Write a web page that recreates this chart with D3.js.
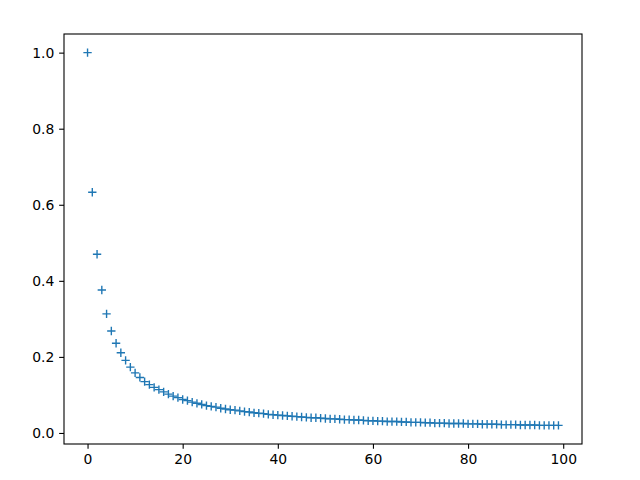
<!DOCTYPE html>
<html>
<head>
<meta charset="utf-8">
<script src="https://cdn.jsdelivr.net/npm/d3@7"></script>
<style>
  body { margin: 0; background: #fff; }
  text { font-family: "DejaVu Sans", sans-serif; }
</style>
</head>
<body>
<div id="chart"></div>
<script>
// values, index = x position
var values = [
  1.000, 0.633, 0.470, 0.376, 0.313, 0.268, 0.236, 0.211, 0.191, 0.173,
  0.158, 0.146, 0.135, 0.127, 0.120, 0.114, 0.108, 0.102, 0.097, 0.093,
  0.088, 0.085, 0.081, 0.078, 0.075, 0.072, 0.070, 0.068, 0.065, 0.063,
  0.061, 0.060, 0.058, 0.056, 0.055, 0.053, 0.052, 0.051, 0.049, 0.048,
  0.047, 0.046, 0.045, 0.044, 0.043, 0.042, 0.041, 0.040, 0.040, 0.039,
  0.038, 0.037, 0.037, 0.036, 0.035, 0.035, 0.034, 0.034, 0.033, 0.032,
  0.032, 0.031, 0.031, 0.030, 0.030, 0.030, 0.029, 0.029, 0.028, 0.028,
  0.028, 0.027, 0.027, 0.026, 0.026, 0.026, 0.025, 0.025, 0.025, 0.025,
  0.024, 0.024, 0.024, 0.023, 0.023, 0.023, 0.023, 0.022, 0.022, 0.022,
  0.022, 0.021, 0.021, 0.021, 0.021, 0.020, 0.020, 0.020, 0.020, 0.020
];
var x_ticks = [0, 20, 40, 60, 80, 100];
var y_ticks = [0.0, 0.2, 0.4, 0.6, 0.8, 1.0];

var width = 640;
var height = 480;
var margin = {left: 64, right: 58, top: 34, bottom: 36};

var svg = d3.select("#chart").append("svg")
    .attr("width", width)
    .attr("height", height);

svg.append("rect")
    .attr("width", width)
    .attr("height", height)
    .attr("fill", "#fff");

var data = values.map(function(v, i) { return {x: i, y: v}; });

// matplotlib style 5% padding
var xmin = 0, xmax = data.length - 1;
var xpad = (xmax - xmin) * 0.05;
var ymin = d3.min(values), ymax = d3.max(values);
var ypad = (ymax - ymin) * 0.05;

var x_scale = d3.scaleLinear()
    .domain([xmin - xpad, xmax + xpad])
    .range([margin.left, width - margin.right]);

var y_scale = d3.scaleLinear()
    .domain([ymin - ypad, ymax + ypad])
    .range([height - margin.bottom, margin.top]);

var tick_len = 4.86;

var x_axis = d3.axisBottom(x_scale)
    .tickValues(x_ticks)
    .tickFormat(d3.format("d"))
    .tickSize(tick_len)
    .tickPadding(4.86);

var y_axis = d3.axisLeft(y_scale)
    .tickValues(y_ticks)
    .tickFormat(d3.format(".1f"))
    .tickSize(tick_len)
    .tickPadding(4.86);

// markers
var s = 4.17;
var marks = svg.append("g")
    .attr("stroke", "#1f77b4")
    .attr("stroke-width", 1.39)
    .attr("fill", "none");

marks.selectAll(".mark")
  .data(data)
  .enter()
  .append("path")
  .attr("class", "mark")
  .attr("d", function(d) {
    var cx = x_scale(d.x), cy = y_scale(d.y);
    return "M" + (cx - s) + "," + cy + "H" + (cx + s) +
           "M" + cx + "," + (cy - s) + "V" + (cy + s);
  });

var gx = svg.append("g")
    .attr("transform", "translate(0," + (height - margin.bottom) + ")")
    .call(x_axis);

var gy = svg.append("g")
    .attr("transform", "translate(" + margin.left + ",0)")
    .call(y_axis);

[gx, gy].forEach(function(g) {
  g.select(".domain").remove();
  g.selectAll(".tick line").attr("stroke", "#000").attr("stroke-width", 1.1);
  g.selectAll(".tick text")
    .attr("fill", "#000")
    .style("font-size", "13.9px")
    .style("font-family", "'DejaVu Sans', sans-serif");
});

// frame
svg.append("rect")
    .attr("x", margin.left)
    .attr("y", margin.top)
    .attr("width", width - margin.left - margin.right)
    .attr("height", height - margin.top - margin.bottom)
    .attr("fill", "none")
    .attr("stroke", "#000")
    .attr("stroke-width", 1.1);
</script>
</body>
</html>
